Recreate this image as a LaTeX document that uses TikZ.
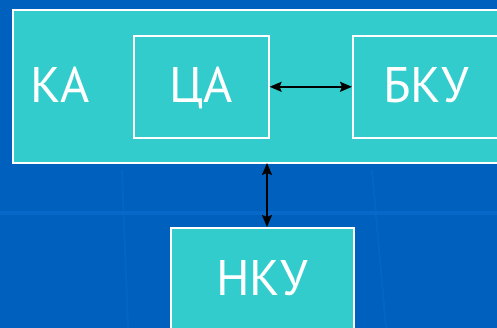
\documentclass[tikz,border=0pt]{standalone}
\usepackage{fontspec}
\setmainfont{PT Sans}
\usetikzlibrary{arrows.meta,positioning}
\definecolor{bgblue}{HTML}{0060BE}
\definecolor{bgband}{HTML}{0A6ACC}
\definecolor{teal}{HTML}{33CCCC}
\tikzset{
  block/.style={draw=white,line width=1.6pt,fill=teal,inner sep=0pt},
  lbl/.style={text=white,font=\fontsize{50}{50}\selectfont,inner sep=0pt,anchor=base},
  tip/.tip={Stealth[length=12pt,width=10pt,inset=2pt]},
  link/.style={black,line width=1.6pt,tip-tip}
}
\begin{document}
\begin{tikzpicture}[x=1pt,y=-1pt]
  \useasboundingbox (0,0) rectangle (497,328);
  \clip (0,0) rectangle (497,328);
  % backdrop
  \fill[bgblue] (0,0) rectangle (497,328);
  \fill[bgband,opacity=0.8] (0,211) rectangle (497,215);
  \draw[bgband,line width=2pt,opacity=0.5] (122,170) -- (128,328);
  \draw[bgband,line width=2pt,opacity=0.5] (372,170) -- (386,328);
  % outer block
  \node[block,minimum width=510pt,minimum height=153pt,anchor=north west] (ka) at (12,9) {};
  \node[lbl] (kat) at (60,103) {КА};
  % inner blocks
  \node[block,minimum width=135pt,minimum height=102pt,anchor=north west] (ca) at (133,35) {};
  \node[lbl] at (ca.center |- 0,103) {ЦА};
  \node[block,minimum width=160pt,minimum height=102pt,anchor=north west] (bku) at (352,35) {};
  \node[lbl] at (426,103) {БКУ};
  % ground block
  \node[block,minimum width=183pt,minimum height=120pt,anchor=north west] (nku) at (170,227) {};
  \node[lbl] at (262,295) {НКУ};
  % connectors
  \coordinate (kab) at (267,163);
  \draw[link] (ca.east) -- (bku.west);
  \draw[link] (kab) -- (kab |- nku.north);
\end{tikzpicture}
\end{document}
